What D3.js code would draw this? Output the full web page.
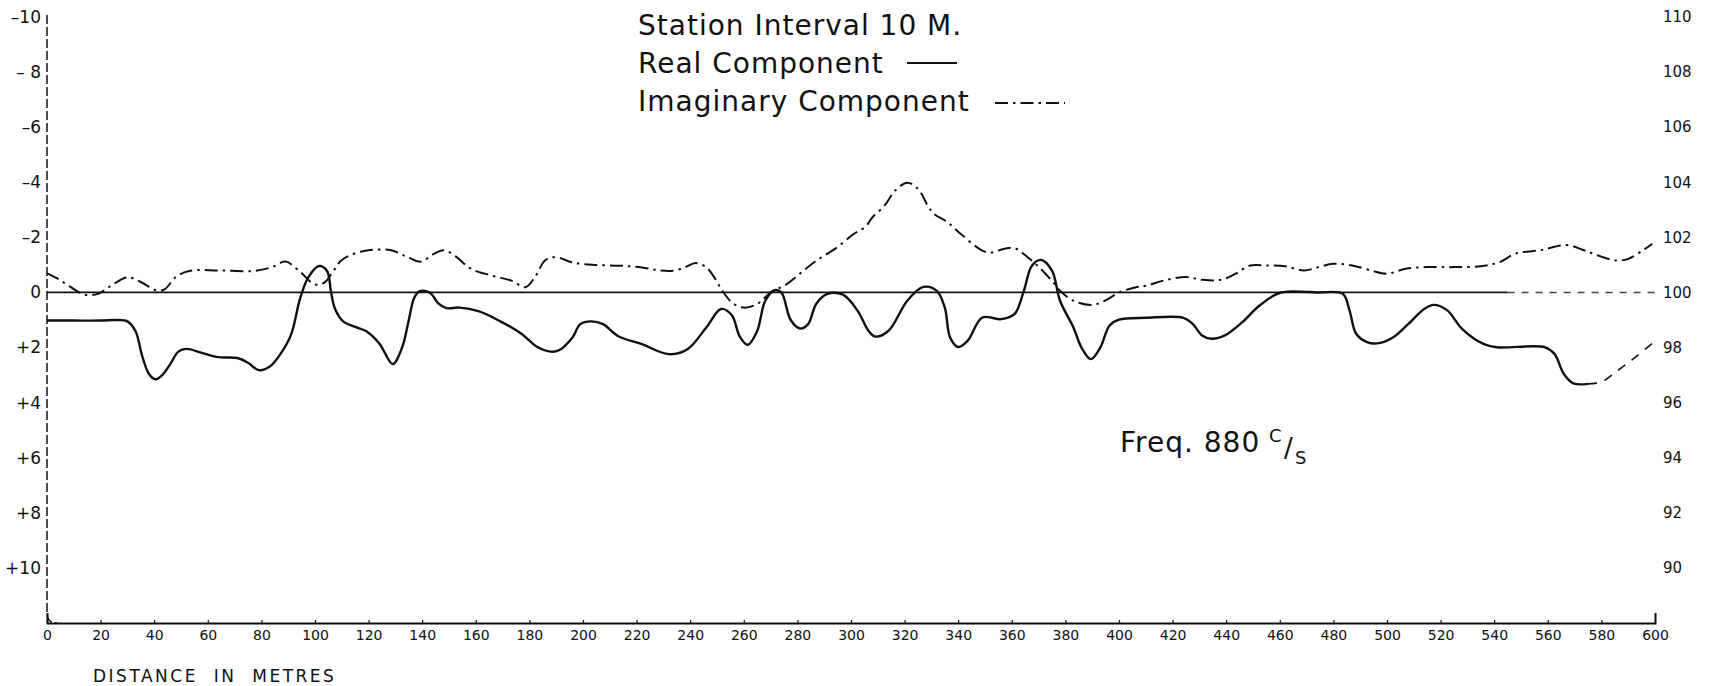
<!DOCTYPE html>
<html>
<head>
<meta charset="utf-8">
<script src="https://cdn.jsdelivr.net/npm/d3@7"></script>
<style>
  html, body { margin: 0; padding: 0; background: #fff; }
  svg { display: block; font-family: "DejaVu Sans", sans-serif; }
  text { fill: #111; }
</style>
</head>
<body>
<svg id="chart" width="1715" height="686"></svg>
<script>
// Distance along the traverse (m) and reading of the real component
const realDist = [0, 10, 20, 26, 30, 33, 35.5, 38, 40.5, 43, 46, 49, 52, 58, 64, 71, 75, 79, 83, 87, 91, 94.5, 97.5, 101.5, 104.5, 106, 107.5, 110.5, 115, 119, 124, 129, 132.5, 135, 137, 139, 143, 146, 149, 154, 161, 169, 177, 183, 188, 191, 196, 199, 203, 207.5, 213, 222, 232, 239, 246, 251.5, 255.5, 258.5, 261.5, 265, 268, 271.5, 274, 277.5, 281, 284, 287, 291, 297, 302.5, 306.5, 309, 314, 321, 327, 332, 335, 337, 340, 343.5, 349, 356, 361, 364.5, 367.5, 371, 375, 378, 383, 386, 389.5, 393, 396.5, 400, 410, 424, 427.5, 431, 434.5, 439.5, 446, 452, 459, 463, 474, 483.5, 486, 488.5, 492.5, 497, 502.5, 508, 514, 517.5, 522.5, 528, 536, 541, 559, 562.5, 566, 569.5, 575, 580, 586, 592, 599];
const realVal = [1.02, 1.02, 1.02, 1.0, 1.05, 1.4, 2.3, 2.95, 3.15, 3.0, 2.6, 2.15, 2.05, 2.2, 2.35, 2.38, 2.55, 2.82, 2.7, 2.25, 1.55, 0.2, -0.55, -0.96, -0.78, 0.0, 0.6, 1.05, 1.25, 1.4, 1.85, 2.6, 2.0, 1.0, 0.2, -0.05, 0.02, 0.4, 0.57, 0.55, 0.68, 1.04, 1.5, 1.98, 2.15, 2.1, 1.64, 1.15, 1.05, 1.15, 1.58, 1.88, 2.24, 2.06, 1.27, 0.6, 0.82, 1.6, 1.9, 1.4, 0.3, -0.08, 0.0, 1.0, 1.31, 1.15, 0.42, 0.06, 0.08, 0.67, 1.39, 1.6, 1.39, 0.3, -0.2, -0.06, 0.55, 1.64, 1.98, 1.76, 0.91, 0.97, 0.79, -0.06, -0.97, -1.18, -0.79, 0.3, 1.27, 2.0, 2.42, 2.0, 1.2, 0.99, 0.92, 0.92, 1.14, 1.56, 1.68, 1.56, 1.08, 0.51, 0.05, -0.03, 0.0, 0.05, 0.65, 1.5, 1.8, 1.84, 1.62, 1.14, 0.59, 0.45, 0.65, 1.32, 1.87, 1.99, 1.99, 2.23, 2.96, 3.3, 3.32, 3.25, 2.84, 2.4, 1.85];
// Beyond this distance the real curve is only pencilled in
const realSolidEnd = 575;

// Distance (m) and reading of the imaginary component
const imagDist = [0, 4, 8, 14, 19, 24, 30, 35, 41, 44, 48, 53, 64, 77, 84, 89, 94.5, 100, 103.5, 107, 110, 117, 128, 134, 139.5, 144, 148, 152.5, 158, 166, 173.5, 178.5, 182, 186, 190, 196, 204, 214, 222, 228, 233.5, 238, 242, 246, 249, 252, 256, 260, 265, 270, 276, 281.5, 287, 294, 301, 305.5, 308, 312.5, 316.5, 321, 325, 329, 331, 336, 341, 349, 352.5, 357, 361, 366, 371.5, 376, 378, 383, 390, 395.5, 400, 406, 410, 417, 425, 431, 438, 443.5, 449, 455, 462, 469, 474.5, 480, 487, 494, 500, 507, 515, 525, 535, 542, 548, 557, 567, 573, 578.5, 585.5, 590, 595.5, 599];
const imagVal = [-0.69, -0.5, -0.25, 0.08, 0.05, -0.25, -0.55, -0.38, -0.07, -0.12, -0.56, -0.78, -0.8, -0.78, -0.92, -1.12, -0.74, -0.29, -0.36, -0.8, -1.18, -1.48, -1.54, -1.31, -1.12, -1.38, -1.53, -1.31, -0.87, -0.61, -0.42, -0.19, -0.55, -1.18, -1.28, -1.09, -1.0, -0.97, -0.91, -0.81, -0.79, -0.91, -1.07, -0.91, -0.55, -0.06, 0.4, 0.55, 0.42, 0.0, -0.3, -0.73, -1.15, -1.58, -2.12, -2.4, -2.73, -3.15, -3.7, -3.98, -3.76, -3.09, -2.85, -2.55, -2.12, -1.52, -1.45, -1.58, -1.61, -1.27, -0.79, -0.3, -0.06, 0.3, 0.45, 0.26, 0.0, -0.18, -0.24, -0.44, -0.56, -0.46, -0.46, -0.68, -0.98, -0.98, -0.95, -0.8, -0.92, -1.04, -0.98, -0.8, -0.68, -0.86, -0.92, -0.92, -0.95, -1.1, -1.41, -1.53, -1.72, -1.55, -1.35, -1.16, -1.22, -1.53, -1.77];

// Axis ticks and their labels
const xTicks = [0, 20, 40, 60, 80, 100, 120, 140, 160, 180, 200, 220, 240, 260, 280, 300, 320, 340, 360, 380, 400, 420, 440, 460, 480, 500, 520, 540, 560, 580, 600];
const yTicks = [-10, -8, -6, -4, -2, 0, 2, 4, 6, 8, 10];
const yLabelsLeft = ["–10", "– 8", "–6", "–4", "–2", "0", "+2", "+4", "+6", "+8", "+10"];
const yLabelsRight = ["110", "108", "106", "104", "102", "100", "98", "96", "94", "92", "90"];

const legendLines = ["Station Interval 10 M.", "Real Component", "Imaginary Component"];
const freqText = "Freq. 880";

const svg = d3.select("#chart");
const INK = "#111";
const dashDot = "13,5,2.5,5";

const x = d3.scaleLinear().domain([0, 600]).range([47, 1655]);
const y = d3.scaleLinear().domain([-10, 12]).range([17, 623]);

// Bottom axis with small upward ticks
const xAxis = d3.axisBottom(x)
  .tickValues(xTicks)
  .tickFormat(d3.format("d"))
  .tickSizeInner(-3)
  .tickSizeOuter(-10)
  .tickPadding(7);
const gx = svg.append("g").attr("transform", `translate(0,${y(12)})`).call(xAxis);
gx.select(".domain").attr("stroke", INK).attr("stroke-width", 2);
gx.selectAll(".tick line").attr("stroke", INK).attr("stroke-width", 1.2);
gx.selectAll(".tick text").attr("font-size", 14).attr("fill", INK)
  .attr("font-family", "DejaVu Sans, sans-serif");

// Left axis: broken vertical rule with a rounded foot
svg.append("path")
  .attr("d", `M${x(0)},${y(-10) - 2} V${y(12) - 10} Q${x(0)},${y(12)} ${x(0) + 10},${y(12)}`)
  .attr("fill", "none").attr("stroke", INK).attr("stroke-width", 1.5)
  .attr("stroke-dasharray", "9,3");

const gyl = svg.append("g").attr("transform", `translate(${x(0) - 1},0)`)
  .call(d3.axisLeft(y).tickValues(yTicks).tickSize(0).tickPadding(5)
    .tickFormat((d, i) => yLabelsLeft[i]));
gyl.select(".domain").remove();
gyl.selectAll(".tick text").attr("font-size", 17).attr("fill", INK)
  .attr("font-family", "DejaVu Sans, sans-serif");

const gyr = svg.append("g").attr("transform", "translate(1663,0)")
  .call(d3.axisRight(y).tickValues(yTicks).tickSize(0).tickPadding(0)
    .tickFormat((d, i) => yLabelsRight[i]));
gyr.select(".domain").remove();
gyr.selectAll(".tick text").attr("font-size", 15).attr("fill", "#777")
  .attr("font-family", "DejaVu Sans, sans-serif");

// Zero reference line
svg.append("line")
  .attr("x1", x(0)).attr("x2", x(545)).attr("y1", y(0)).attr("y2", y(0))
  .attr("stroke", INK).attr("stroke-width", 1.8);
svg.append("line")
  .attr("x1", x(545)).attr("x2", x(600)).attr("y1", y(0)).attr("y2", y(0))
  .attr("stroke", "#444").attr("stroke-width", 1.4).attr("stroke-dasharray", "7,7");

const line = d3.line()
  .x(d => x(d[0]))
  .y(d => y(d[1]))
  .curve(d3.curveCatmullRom.alpha(0.5));

const realPts = realDist.map((d, i) => [d, realVal[i]]);
const imagPts = imagDist.map((d, i) => [d, imagVal[i]]);

// Real component: solid, then dashed where it is only sketched
svg.append("path")
  .datum(realPts.filter(p => p[0] <= realSolidEnd))
  .attr("d", line).attr("fill", "none")
  .attr("stroke", INK).attr("stroke-width", 2.4).attr("stroke-linejoin", "round");
svg.append("path")
  .datum(realPts.filter(p => p[0] >= realSolidEnd))
  .attr("d", line).attr("fill", "none")
  .attr("stroke", INK).attr("stroke-width", 1.6).attr("stroke-dasharray", "9,8");

// Imaginary component: dash-dot
svg.append("path")
  .datum(imagPts)
  .attr("d", line).attr("fill", "none")
  .attr("stroke", INK).attr("stroke-width", 2).attr("stroke-dasharray", dashDot);

// Legend block
const legend = svg.append("g")
  .attr("font-size", 28).attr("letter-spacing", 1);
const legendBaselines = [35, 73, 111];
legend.selectAll("text").data(legendLines).join("text")
  .attr("x", 638).attr("y", (d, i) => legendBaselines[i]).text(d => d);
legend.append("line")
  .attr("x1", 907).attr("x2", 957).attr("y1", 63).attr("y2", 63)
  .attr("stroke", INK).attr("stroke-width", 2.2);
legend.append("line")
  .attr("x1", 995).attr("x2", 1065).attr("y1", 103).attr("y2", 103)
  .attr("stroke", INK).attr("stroke-width", 2).attr("stroke-dasharray", dashDot);

// Frequency annotation, cycles per second written as C/S
svg.append("text").attr("x", 1120).attr("y", 452)
  .attr("font-size", 28).attr("letter-spacing", 1).text(freqText);
svg.append("text").attr("x", 1269).attr("y", 442).attr("font-size", 18).text("C");
svg.append("text").attr("x", 1284).attr("y", 457).attr("font-size", 26).text("/");
svg.append("text").attr("x", 1295).attr("y", 464).attr("font-size", 18).text("S");

// Axis title
svg.append("text")
  .attr("x", 93).attr("y", 682)
  .attr("font-size", 17).attr("letter-spacing", 2.5)
  .style("white-space", "pre")
  .text("DISTANCE  IN  METRES");
</script>
</body>
</html>
